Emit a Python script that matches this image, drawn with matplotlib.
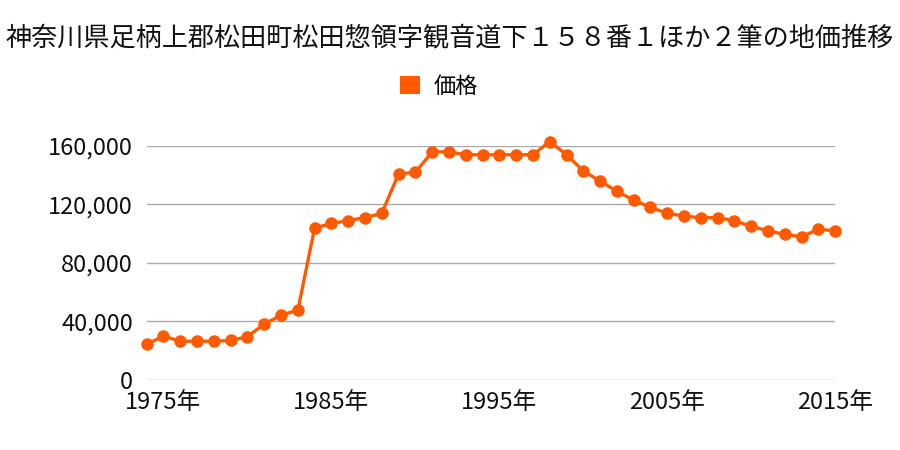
import matplotlib
matplotlib.use('Agg')
import matplotlib.pyplot as plt
from matplotlib.patches import Patch

plt.rcParams['font.family'] = ['Noto Sans CJK JP', 'DejaVu Sans']

TITLE = '神奈川県足柄上郡松田町松田惣領字観音道下１５８番１ほか２筆の地価推移'
SERIES_NAME = '価格'

years = list(range(1974, 2016))
prices = [24400, 30000, 26500, 26500, 26500, 27000, 29600, 38300, 44200, 47800,
          104000, 107000, 109000, 111000, 114000, 141000, 142000, 156000, 156000, 154000,
          154000, 154000, 154000, 154000, 163000, 154000, 143000, 136000, 129000, 123000,
          118000, 114000, 112000, 111000, 111000, 109000, 105000, 102000, 99500, 98000,
          103000, 102000]
y_ticks = [0, 40000, 80000, 120000, 160000]
x_ticks = [1975, 1985, 1995, 2005, 2015]

color = '#ff5a00'

fig = plt.figure(figsize=(9, 4.5), dpi=100)
ax = fig.add_axes([0.163, 0.1556, 0.765, 0.52])

ax.plot(years, prices, color=color, linewidth=2.4, marker='o', markersize=8,
        clip_on=False, zorder=3)

ax.set_xlim(1974, 2015)
ax.set_ylim(0, 160000)
ax.set_yticks(y_ticks)
ax.set_yticklabels([f'{v:,}' for v in y_ticks])
ax.set_xticks(x_ticks)
ax.set_xticklabels([f'{y}年' for y in x_ticks])
ax.tick_params(axis='both', length=0, labelsize=17, colors='#111111')
ax.tick_params(axis='y', pad=10)
ax.tick_params(axis='x', pad=8)
ax.grid(axis='y', color='#aaaaaa', linewidth=1)
ax.set_axisbelow(True)
for s in ax.spines.values():
    s.set_visible(False)

fig.text(0.5, 0.916, TITLE, ha='center', va='center', fontsize=18.8, color='#111111')
fig.legend(handles=[Patch(facecolor=color, label=SERIES_NAME)], loc='center',
           bbox_to_anchor=(0.488, 0.808), frameon=False, fontsize=16,
           handlelength=0.9, handleheight=0.9, handletextpad=0.6)

fig.savefig('out.png', dpi=100)
